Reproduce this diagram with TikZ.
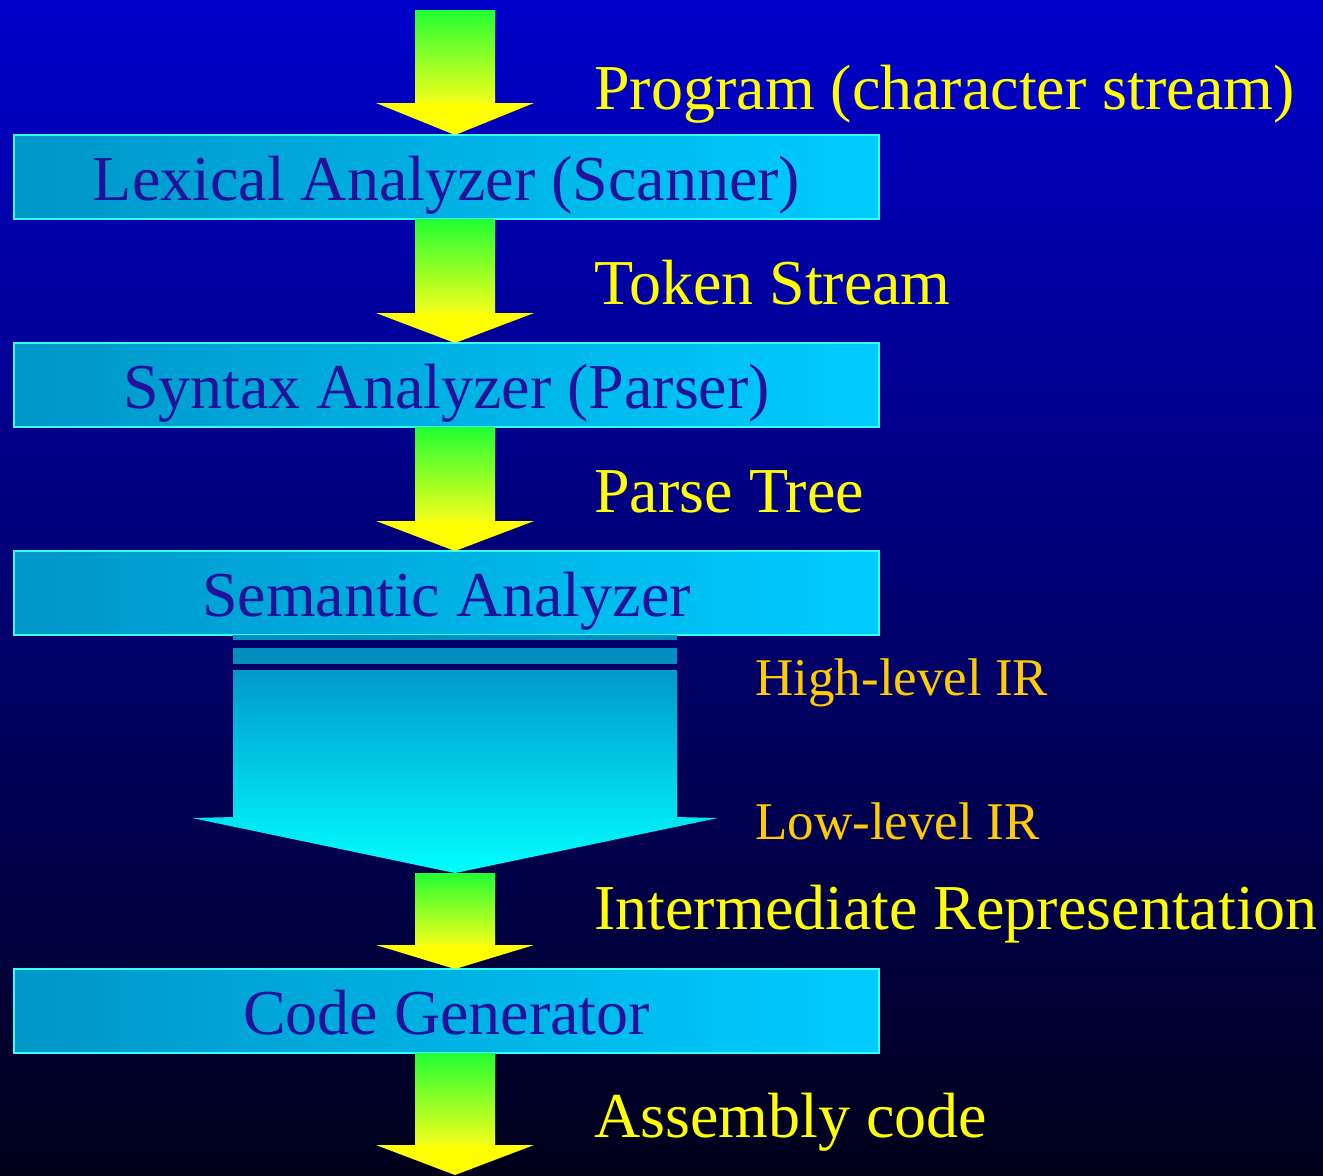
\documentclass[tikz,border=0pt]{standalone}
\usepackage{fontspec}
\setmainfont{Liberation Serif}
\usetikzlibrary{positioning,calc}
\definecolor{bgtop}{HTML}{0000CC}
\definecolor{bgbottom}{HTML}{00001A}
\definecolor{boxdark}{HTML}{0096C8}
\definecolor{boxlight}{HTML}{00CCFF}
\definecolor{boxedge}{HTML}{33FFFF}
\definecolor{boxtext}{HTML}{221199}
\definecolor{shaftgreen}{HTML}{22FF33}
\definecolor{shaftyellow}{HTML}{F4FF1A}
\definecolor{headyellow}{HTML}{FFFF00}
\definecolor{irstripe}{HTML}{0090C0}
\definecolor{irtopcol}{HTML}{0099CC}
\definecolor{irbottomcol}{HTML}{00FFFF}
\definecolor{irtext}{HTML}{FFCC00}

\begin{document}
\begin{tikzpicture}[x=0.5pt,y=-0.5pt,
stagenode/.style={rectangle, draw=boxedge, line width=1pt, left color=boxdark, right color=boxlight,
minimum width=432.5pt, minimum height=42pt, inner sep=0pt, outer sep=0pt,
text height=23.5pt, text depth=0pt, text=boxtext, font=\fontsize{32}{38}\selectfont},
flowlabel/.style={anchor=base west, inner sep=0pt, text=headyellow, font=\fontsize{32}{38}\selectfont},
irlabel/.style={anchor=base west, inner sep=0pt, text=irtext, font=\fontsize{26.5}{32}\selectfont},
shaftshade/.style={top color=shaftgreen, bottom color=shaftyellow},
headfill/.style={fill=headyellow},
irshade/.style={top color=irtopcol, bottom color=irbottomcol}]
%Background
\shade[top color=bgtop, bottom color=bgbottom] (0,0) rectangle (1323,1175);
\useasboundingbox (0,0) rectangle (1323,1175);
%Nodes
\node[stagenode] (lex)                          at (446.5,177) {Lexical Analyzer (Scanner)};
\node[stagenode] (syn) [below=62pt of lex]  {Syntax Analyzer (Parser)};
\node[stagenode] (sem) [below=62pt of syn]  {Semantic Analyzer};
\node[stagenode] (gen) [below=167pt of sem] {Code Generator};
\coordinate (axis)  at (455,0);
\coordinate (src)   at (455,10);
\coordinate (irtop) at (sem.south -| axis);
\coordinate (irtip) at (455,873);
\coordinate (sink)  at (455,1175);
%Labels
\node[flowlabel] (prog)   at (594,109)  {Program (character stream)};
\node[flowlabel] (tokens) at (594,304)  {Token Stream};
\node[flowlabel] (tree)   at (594,512)  {Parse Tree};
\node[irlabel]   (highir) at (755,695)  {High-level IR};
\node[irlabel]   (lowir)  at (755,839)  {Low-level IR};
\node[flowlabel] (irep)   at (594,929)  {Intermediate Representation};
\node[flowlabel] (asm)    at (594,1137) {Assembly code};
%Arrows
\shade[shaftshade] ($(src)+(-40,0)$) rectangle ($(lex.north -| axis)+(40,-32)$);
\fill[headfill] ($(lex.north -| axis)+(-79,-32)$) -- ($(lex.north -| axis)+(79,-32)$) -- (lex.north -| axis) -- cycle;
\shade[shaftshade] ($(lex.south -| axis)+(-40,0)$) rectangle ($(syn.north -| axis)+(40,-30)$);
\fill[headfill] ($(syn.north -| axis)+(-79,-30)$) -- ($(syn.north -| axis)+(79,-30)$) -- (syn.north -| axis) -- cycle;
\shade[shaftshade] ($(syn.south -| axis)+(-40,0)$) rectangle ($(sem.north -| axis)+(40,-30)$);
\fill[headfill] ($(sem.north -| axis)+(-79,-30)$) -- ($(sem.north -| axis)+(79,-30)$) -- (sem.north -| axis) -- cycle;
\shade[shaftshade] ($(irtip)+(-40,0)$) rectangle ($(gen.north -| axis)+(40,-24)$);
\fill[headfill] ($(gen.north -| axis)+(-79,-24)$) -- ($(gen.north -| axis)+(79,-24)$) -- (gen.north -| axis) -- cycle;
\shade[shaftshade] ($(gen.south -| axis)+(-40,0)$) rectangle ($(sink)+(40,-30)$);
\fill[headfill] ($(sink)+(-79,-30)$) -- ($(sink)+(79,-30)$) -- (sink) -- cycle;
%IR arrow
\fill[irstripe] ($(irtop)+(-222,0)$) rectangle ($(irtop)+(222,5)$);
\fill[irstripe] ($(irtop)+(-222,13)$) rectangle ($(irtop)+(222,29)$);
\shade[irshade] ($(irtop)+(-222,35)$) -- ($(irtop)+(222,35)$) -- ($(irtop)+(222,182)$)
  -- ($(irtip)+(263,-55)$) -- (irtip) -- ($(irtip)+(-263,-55)$) -- ($(irtop)+(-222,182)$) -- cycle;
\end{tikzpicture}
\end{document}
